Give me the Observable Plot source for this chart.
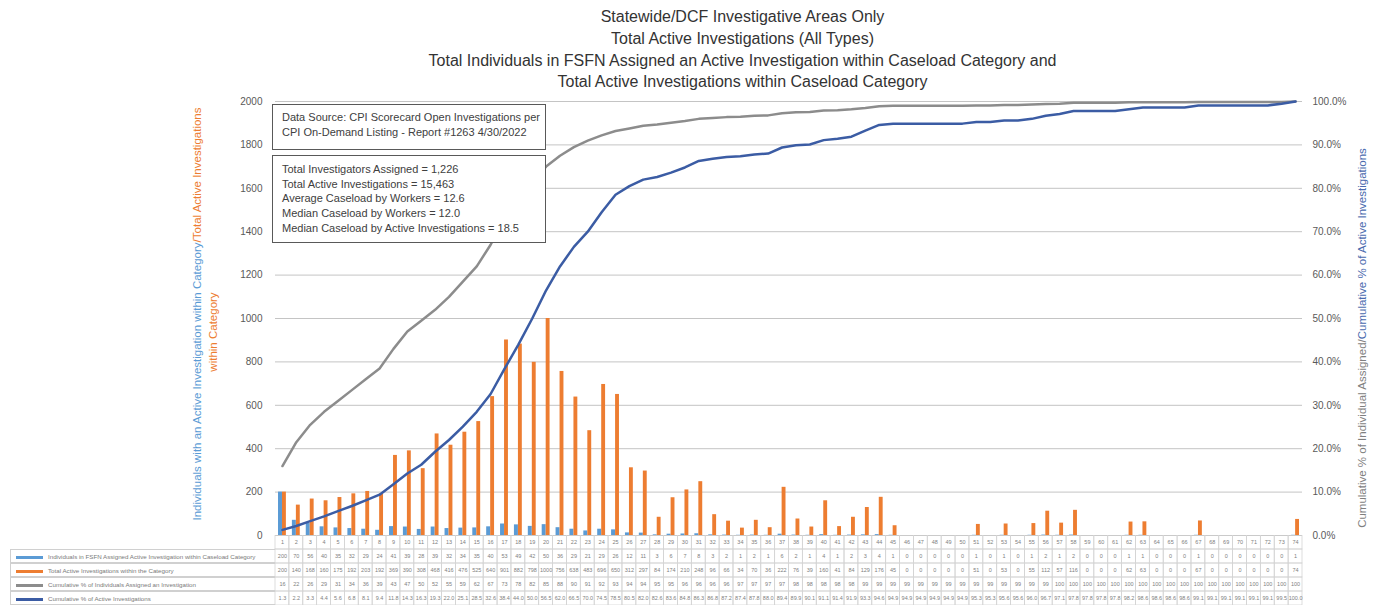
<!DOCTYPE html>
<html><head><meta charset="utf-8">
<script src="https://cdn.jsdelivr.net/npm/d3@7"></script>
<script src="https://cdn.jsdelivr.net/npm/@observablehq/plot@0.6"></script>
<style>
body{margin:0;background:#fff;font-family:"Liberation Sans",Arial,sans-serif;}
#wrap{position:relative;width:1375px;height:606px;overflow:hidden;background:#fff;}
#title{position:absolute;left:0;top:6px;width:1485px;text-align:center;font-size:16px;line-height:21.8px;color:#333;}
.box{position:absolute;background:#fff;border:1.5px solid #595959;box-sizing:border-box;font-size:11px;color:#404040;padding-left:9px;white-space:nowrap;}
.rot{position:absolute;transform:rotate(-90deg);transform-origin:center center;text-align:center;white-space:nowrap;font-size:11.5px;}
.rowlab{position:absolute;left:10px;width:265px;height:14px;box-sizing:border-box;border:1px solid #d0d0d0;border-right:none;font-size:6.2px;color:#7a7a7a;line-height:13px;white-space:nowrap;overflow:hidden;}
.key{display:inline-block;width:27px;height:3px;vertical-align:middle;margin:0 5px 0 5px;}
</style></head><body><div id="wrap"></div>
<script>
const categories = [1,2,3,4,5,6,7,8,9,10,11,12,13,14,15,16,17,18,19,20,21,22,23,24,25,26,27,28,29,30,31,32,33,34,35,36,37,38,39,40,41,42,43,44,45,46,47,48,49,50,51,52,53,54,55,56,57,58,59,60,61,62,63,64,65,66,67,68,69,70,71,72,73,74];
const individuals = [200,70,56,40,35,32,29,24,41,39,28,39,32,34,35,40,53,49,42,50,36,29,21,29,26,12,11,3,6,7,8,3,2,1,2,1,6,2,1,4,1,2,3,4,1,0,0,0,0,0,1,0,1,0,1,2,1,2,0,0,0,1,1,0,0,0,1,0,0,0,0,0,0,1];
const investigations = [200,140,168,160,175,192,203,192,369,390,308,468,416,476,525,640,901,882,798,1000,756,638,483,696,650,312,297,84,174,210,248,96,66,34,70,36,222,76,39,160,41,84,129,176,45,0,0,0,0,0,51,0,53,0,55,112,57,116,0,0,0,62,63,0,0,0,67,0,0,0,0,0,0,74];
const cumIndividualsPct = [16,21.5,25.5,28.5,31,33.5,36,38.5,43,47,49.5,52,55,58.5,62,67,73,78,81.5,85,87.5,89.5,91,92.2,93.2,93.8,94.4,94.7,95.1,95.5,96,96.2,96.4,96.5,96.7,96.8,97.3,97.5,97.6,97.9,98,98.2,98.5,98.9,99,99,99,99,99,99,99.1,99.1,99.2,99.2,99.3,99.4,99.5,99.7,99.7,99.7,99.7,99.8,99.8,99.8,99.8,99.8,99.9,99.9,99.9,99.9,99.9,99.9,99.9,100];
const cumInvestigationsPct = [1.3,2.2,3.3,4.4,5.6,6.8,8.1,9.4,11.8,14.3,16.3,19.3,22,25.1,28.5,32.6,38.4,44,50,56.5,62,66.5,70,74.5,78.5,80.5,82,82.6,83.6,84.8,86.3,86.8,87.2,87.4,87.8,88,89.4,89.9,90.1,91.1,91.4,91.9,93.3,94.6,94.9,94.9,94.9,94.9,94.9,94.9,95.3,95.3,95.6,95.6,96,96.7,97.1,97.8,97.8,97.8,97.8,98.2,98.6,98.6,98.6,98.6,99.1,99.1,99.1,99.1,99.1,99.1,99.5,100];
const leftTicks = [0,200,400,600,800,1000,1200,1400,1600,1800,2000];
const titleLines = ["Statewide/DCF Investigative Areas Only","Total Active Investigations (All Types)","Total Individuals in FSFN Assigned an Active Investigation within Caseload Category and","Total Active Investigations within Caseload Category"];
const sourceLines = ["Data Source: CPI Scorecard Open Investigations per","CPI On-Demand Listing - Report #1263 4/30/2022"];
const statLines = ["Total Investigators Assigned = 1,226","Total Active Investigations = 15,463","Average Caseload by Workers = 12.6","Median Caseload by Workers = 12.0","Median Caseload by Active Investigations = 18.5"];
const seriesNames = ["Individuals in FSFN Assigned Active Investigation within Caseload Category","Total Active Investigations within the Category","Cumulative % of Individuals Assigned an Investigation","Cumulative % of Active Investigations"];
const colors = {ind:"#5B9BD5", inv:"#ED7D31", cumInd:"#8C8C8C", cumInv:"#3B5CA4"};

const data = categories.map((c,i)=>({cat:c, ind:individuals[i], inv:investigations[i], cumInd:cumIndividualsPct[i], cumInv:cumInvestigationsPct[i]}));
const wrap = document.getElementById("wrap");

const ML = 275, MR = 73;
const main = Plot.plot({
  width:1375, height:455,
  marginLeft:ML, marginRight:MR, marginTop:11, marginBottom:10,
  style:{fontFamily:"Liberation Sans, Arial, sans-serif", fontSize:"10px", color:"#595959", background:"transparent", overflow:"visible"},
  x:{type:"band", domain:categories, padding:0, axis:null},
  y:{domain:[0,2000], axis:null},
  marks:[
    Plot.ruleY(leftTicks, {stroke:"#c4c4c4", strokeWidth:1}),
    Plot.axisY(leftTicks, {anchor:"left", tickSize:0, tickPadding:13, tickFormat:d=>String(d), label:null}),
    Plot.axisY(leftTicks, {anchor:"right", tickSize:0, tickPadding:10, tickFormat:d=>(d/20).toFixed(1)+"%", label:null}),
    Plot.barY(data, {x:"cat", y:"ind", fill:colors.ind, insetLeft:3, insetRight:6.9}),
    Plot.barY(data, {x:"cat", y:"inv", fill:colors.inv, insetLeft:7, insetRight:3}),
    Plot.line(data, {x:"cat", y:d=>d.cumInd*20, stroke:colors.cumInd, strokeWidth:2.5}),
    Plot.line(data, {x:"cat", y:d=>d.cumInv*20, stroke:colors.cumInv, strokeWidth:2.5})
  ]
});
main.style.position="absolute"; main.style.left="0px"; main.style.top="90px";
wrap.appendChild(main);

// data table
const rows = ["hdr","ind","inv","cumInd","cumInv"];
const tableData = [];
data.forEach(d=>{
  tableData.push({cat:d.cat,row:"hdr",t:String(d.cat)});
  tableData.push({cat:d.cat,row:"ind",t:String(d.ind)});
  tableData.push({cat:d.cat,row:"inv",t:String(d.inv)});
  tableData.push({cat:d.cat,row:"cumInd",t:String(Math.round(d.cumInd))});
  tableData.push({cat:d.cat,row:"cumInv",t:d.cumInv.toFixed(1)});
});
const table = Plot.plot({
  width:1375, height:70,
  marginLeft:ML, marginRight:MR, marginTop:0, marginBottom:0,
  style:{fontFamily:"Liberation Sans, Arial, sans-serif", background:"transparent"},
  x:{type:"band", domain:categories, padding:0, axis:null},
  y:{type:"band", domain:rows, padding:0, axis:null},
  marks:[
    Plot.cell(tableData, {x:"cat", y:"row", fill:"none", stroke:"#d4d4d4", strokeWidth:0.8}),
    Plot.text(tableData, {x:"cat", y:"row", text:"t", fontSize:5.5, fill:"#808080"})
  ]
});
table.style.position="absolute"; table.style.left="0px"; table.style.top="535px";
wrap.appendChild(table);

// row labels
const keyColors=[colors.ind,colors.inv,colors.cumInd,colors.cumInv];
seriesNames.forEach((s,i)=>{
  const d=document.createElement("div"); d.className="rowlab";
  d.style.top=(535+14*(i+1))+"px";
  d.innerHTML=`<span class="key" style="background:${keyColors[i]}"></span>${s}`;
  wrap.appendChild(d);
});

// title (centered at x ~742)
const t=document.createElement("div"); t.id="title";
t.innerHTML=titleLines.join("<br>"); wrap.appendChild(t);

// annotation boxes
const b1=document.createElement("div"); b1.className="box";
Object.assign(b1.style,{left:"272px",top:"104px",width:"274px",height:"46px",paddingTop:"5px",lineHeight:"15px"});
b1.innerHTML=sourceLines.join("<br>"); wrap.appendChild(b1);
const b2=document.createElement("div"); b2.className="box";
Object.assign(b2.style,{left:"272px",top:"155px",width:"274px",height:"88px",paddingTop:"6px",lineHeight:"14.7px"});
b2.innerHTML=statLines.join("<br>"); wrap.appendChild(b2);

// rotated axis titles
function rotLabel(cx, cy, w, html){
  const d=document.createElement("div"); d.className="rot";
  Object.assign(d.style,{left:(cx-w/2)+"px", top:(cy-7)+"px", width:w+"px", height:"14px", lineHeight:"14px"});
  d.innerHTML=html; wrap.appendChild(d);
}
rotLabel(197, 314, 480, `<span style="color:${colors.ind}">Individuals with an Active Investigation within Category</span><span style="color:${colors.inv}">/Total Active Investigations</span>`);
rotLabel(213, 332, 200, `<span style="color:${colors.inv}">within Category</span>`);
rotLabel(1362, 338, 440, `<span style="color:#7f7f7f">Cumulative % of Individual Assigned/</span><span style="color:#4a6aae">Cumulative % of Active Investigations</span>`);
</script>
</body></html>
